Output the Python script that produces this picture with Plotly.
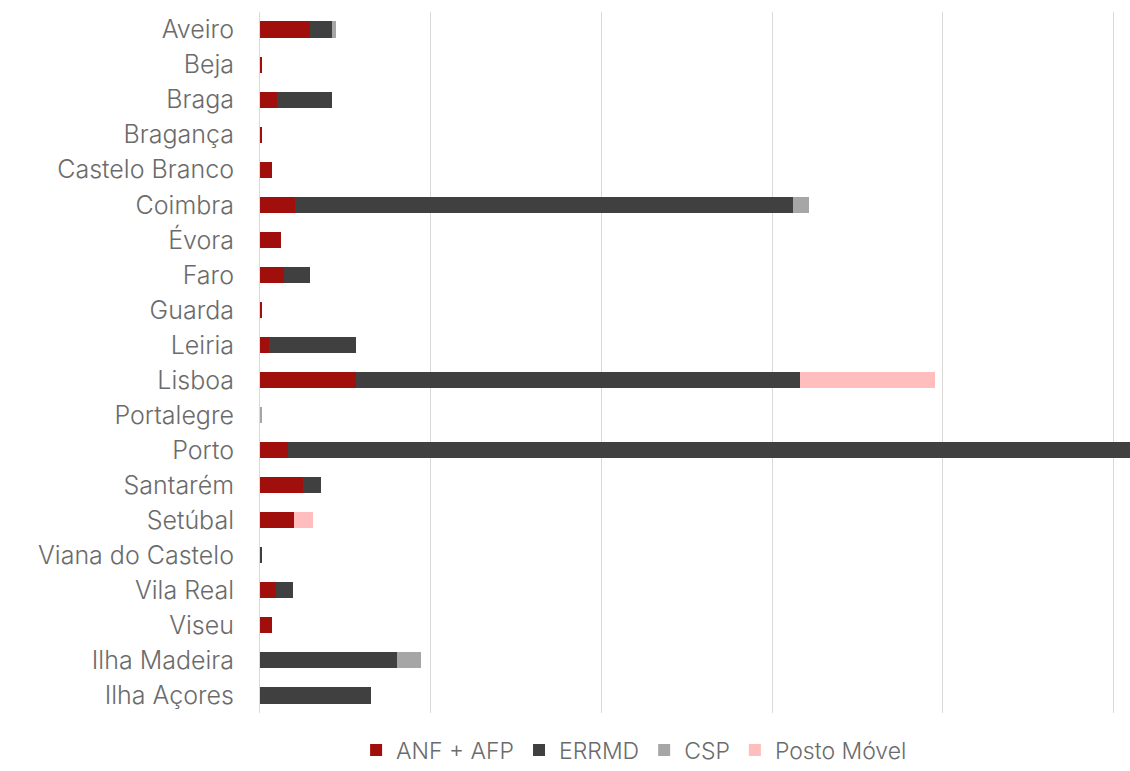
import plotly.graph_objects as go

categories = ["Aveiro", "Beja", "Braga", "Bragança", "Castelo Branco", "Coimbra", "Évora",
              "Faro", "Guarda", "Leiria", "Lisboa", "Portalegre", "Porto", "Santarém",
              "Setúbal", "Viana do Castelo", "Vila Real", "Viseu", "Ilha Madeira", "Ilha Açores"]

anf_afp = [146, 6, 50, 3, 35, 103, 62, 70, 6, 26, 281, 0, 82, 126, 100, 0, 47, 35, 0, 0]
errmd = [64, 0, 161, 0, 0, 1459, 0, 76, 0, 255, 1300, 0, 2518, 53, 0, 4, 50, 0, 401, 325]
csp = [12, 0, 0, 0, 0, 47, 0, 0, 0, 0, 0, 4, 0, 0, 0, 0, 0, 0, 70, 0]
posto_movel = [0, 0, 0, 0, 0, 0, 0, 0, 0, 0, 395, 0, 0, 0, 56, 0, 0, 0, 0, 0]

series = [
    ("ANF + AFP", anf_afp, "#A00F0B"),
    ("ERRMD", errmd, "#404040"),
    ("CSP", csp, "#A6A6A6"),
    ("Posto Móvel", posto_movel, "#FFBDBD"),
]

fig = go.Figure()
for name, vals, color in series:
    fig.add_trace(go.Bar(y=categories, x=vals, name=name, orientation="h",
                         marker=dict(color=color, line=dict(width=0))))

fig.update_layout(
    barmode="stack",
    bargap=0.54,
    width=1130, height=771,
    paper_bgcolor="white", plot_bgcolor="white",
    margin=dict(l=260, r=0, t=12, b=58, autoexpand=False),
    font=dict(family="Inter, sans-serif", color="#6B6B6B", size=25, weight=300),
    legend=dict(orientation="h", x=0.43, xanchor="center", y=-0.0835, yanchor="bottom",
                font=dict(size=23, color="#6B6B6B", weight=300), itemwidth=30,
                traceorder="normal", tracegroupgap=0),
    xaxis=dict(range=[0, 2548], dtick=500, showticklabels=False, showgrid=True,
               gridcolor="#D9D9D9", gridwidth=1, zeroline=False, showline=False),
    yaxis=dict(autorange="reversed", showgrid=False, showline=True, linecolor="#D9D9D9",
               linewidth=1, ticks="", ticklabelstandoff=20,
               tickfont=dict(size=25, weight=300)),
)

fig.write_html("out.html")
